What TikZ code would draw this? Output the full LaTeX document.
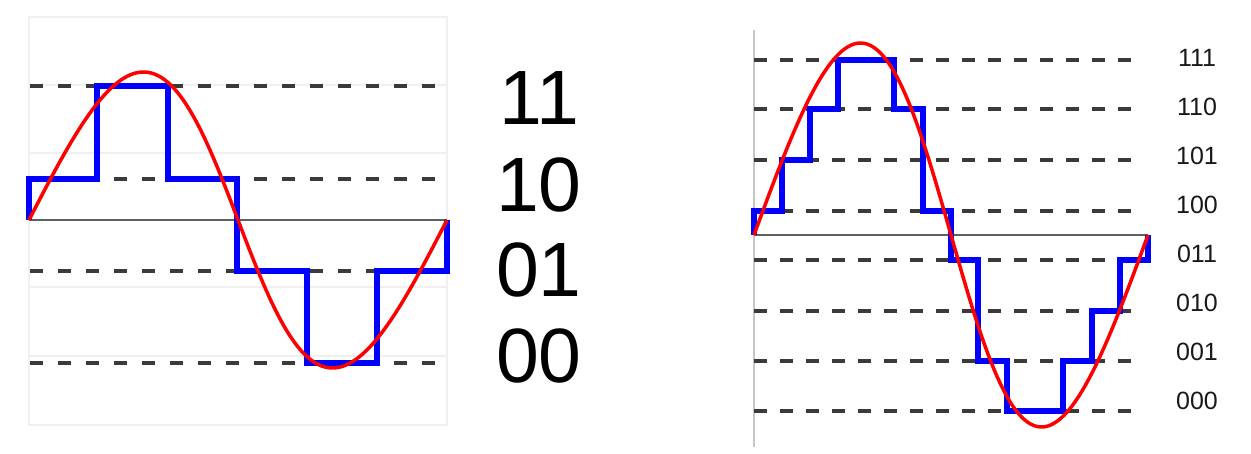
\documentclass[tikz,border=0pt]{standalone}
\usepackage{fontspec}
\setmainfont{Liberation Sans}
\definecolor{gridgray}{HTML}{F0F0F0}
\definecolor{dashgray}{HTML}{3A3A3A}
\definecolor{axisgray}{HTML}{606060}
\definecolor{qblue}{HTML}{0000FF}
\definecolor{qred}{HTML}{FF0000}
\tikzset{
  gridline/.style={draw=gridgray, line width=1.5pt},
  levelline/.style={draw=dashgray, line width=3.5pt, dash pattern=on 13pt off 15pt},
  levelline2/.style={draw=dashgray, line width=3.5pt, dash pattern=on 13pt off 13pt},
  axisline/.style={draw=axisgray, line width=1.5pt},
  stairs/.style={draw=qblue, line width=5.5pt},
  wave/.style={draw=qred, line width=3.5pt},
  biglabel/.style={font=\fontsize{77}{77}\selectfont, text=black, inner sep=0pt},
  smalllabel/.style={font=\fontsize{25}{25}\selectfont, text=black!90, inner sep=0pt},
}
\begin{document}
\begin{tikzpicture}[x=1pt,y=-1pt]
\useasboundingbox (0,0) rectangle (1251,454);
% ---------- left panel ----------
\draw[gridline] (29,17) rectangle (447,425);
\foreach \yy in {85,153,287,356} \draw[gridline] (29,\yy) -- (447,\yy);
\foreach \yy in {86,179,271,363} \draw[levelline] (30,\yy) -- (440,\yy);
\draw[axisline] (29,220) -- (447,220);
\draw[stairs] (29,220) -- (29,179) -- (97,179) -- (97,86) -- (168,86) -- (168,179)
  -- (237,179) -- (237,271) -- (307,271) -- (307,363) -- (377,363) -- (377,271)
  -- (447,271) -- (447,220);
\draw[wave] plot[domain=0:360, samples=120, smooth]
  ({29+1.161111*\x+10*sin(\x)}, {220-148*sin(\x)});
\node[biglabel] (l11) at (539,98) {11};
\node[biglabel] (l10) at (539,185) {10};
\node[biglabel] (l01) at (539,270) {01};
\node[biglabel] (l00) at (539,356) {00};
% ---------- right panel ----------
\draw[draw=black!22, line width=1.5pt] (754,30) -- (754,447);
\foreach \yy in {60,109,160,211,260,311,361,411} \draw[levelline2] (754,\yy) -- (1140,\yy);
\draw[axisline] (754,235) -- (1148,235);
\draw[stairs] (754,235) -- (754,211) -- (782,211) -- (782,160) -- (810,160) -- (810,109)
  -- (838,109) -- (838,60) -- (894,60) -- (894,109) -- (923,109) -- (923,211)
  -- (951,211) -- (951,260) -- (978,260) -- (978,361) -- (1007,361) -- (1007,411)
  -- (1063,411) -- (1063,361) -- (1092,361) -- (1092,311) -- (1120,311) -- (1120,260)
  -- (1148,260) -- (1148,235);
\draw[wave] plot[domain=0:360, samples=120, smooth]
  ({754+1.094444*\x+8*sin(\x)}, {235-192*sin(\x)});
\node[smalllabel] (r111) at (1197,58) {111};
\node[smalllabel] (r110) at (1197,107) {110};
\node[smalllabel] (r101) at (1197,156) {101};
\node[smalllabel] (r100) at (1197,205) {100};
\node[smalllabel] (r011) at (1197,254) {011};
\node[smalllabel] (r010) at (1197,303) {010};
\node[smalllabel] (r001) at (1197,352) {001};
\node[smalllabel] (r000) at (1197,401) {000};
\end{tikzpicture}
\end{document}
